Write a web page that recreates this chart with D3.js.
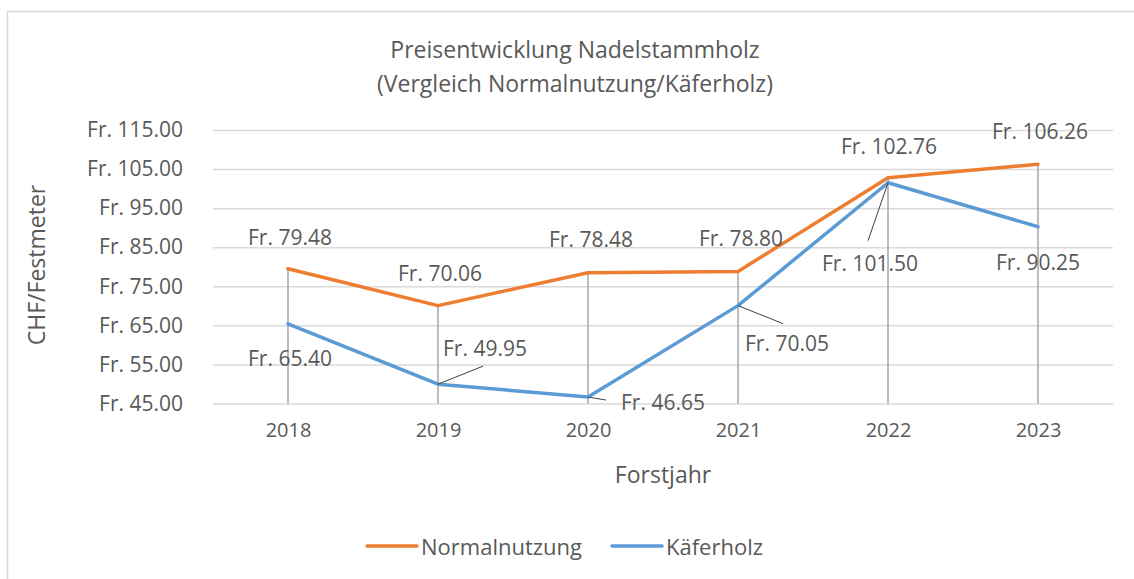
<!DOCTYPE html>
<html>
<head>
<meta charset="utf-8">
<script src="https://cdn.jsdelivr.net/npm/d3@7"></script>
<style>
  body { margin: 0; background: #fff; }
  text { font-family: "Open Sans", sans-serif; fill: #595959; }
</style>
</head>
<body>
<div id="chart"></div>
<script>
// values
var years = ["2018", "2019", "2020", "2021", "2022", "2023"];
var normalnutzung = [79.48, 70.06, 78.48, 78.80, 102.76, 106.26];
var kaeferholz = [65.40, 49.95, 46.65, 70.05, 101.50, 90.25];
var yTicks = [45, 55, 65, 75, 85, 95, 105, 115];

// label placement (offset of label centre from its point), as dragged in the original
var normalLabelPos = [[2, -32], [2, -33], [3, -34], [3, -33], [1, -32], [2, -33]];
var kaeferLabelPos = [[2, 34], [47, -36], [75, 5], [49, 37], [-18, 80], [0, 35]];
// leader lines: end point relative to data point (null = none)
var kaeferLeader = [null, [45, -18], [18, 3], [45, 18], [-20, 58], null];

(function () {
var W = 1134, H = 579;
var plotLeft = 213, plotRight = 1113, plotTop = 130, plotBottom = 403.5;

var svg = d3.select("#chart").append("svg")
    .attr("width", W)
    .attr("height", H);

svg.append("rect")
    .attr("x", 7.5).attr("y", 11.5)
    .attr("width", 1200).attr("height", 700)
    .attr("fill", "#fff")
    .attr("stroke", "#d9d9d9")
    .attr("stroke-width", 1.5);

var x = d3.scalePoint()
    .domain(years)
    .range([plotLeft, plotRight])
    .padding(0.5);

var y = d3.scaleLinear()
    .domain([45, 115])
    .range([plotBottom, plotTop]);

// gridlines + y labels
var yAxis = d3.axisLeft(y)
    .tickValues(yTicks)
    .tickSize(-(plotRight - plotLeft))
    .tickPadding(30)
    .tickFormat(function (d) { return "Fr. " + d3.format(".2f")(d); });

var gy = svg.append("g")
    .attr("transform", "translate(" + plotLeft + ",0)")
    .call(yAxis);
gy.select(".domain").remove();
gy.selectAll(".tick line").attr("stroke", "#d9d9d9").attr("stroke-width", 1.5);
gy.selectAll(".tick text")
    .attr("x", -30)
    .style("font-size", "21px").style("font-family", "'Open Sans', sans-serif")
    .attr("fill", "#595959");

// x labels
var xAxis = d3.axisBottom(x).tickSize(0).tickPadding(19);
var gx = svg.append("g")
    .attr("transform", "translate(0," + plotBottom + ")")
    .call(xAxis);
gx.select(".domain").remove();
gx.selectAll(".tick text")
    .style("font-size", "20px").style("font-family", "'Open Sans', sans-serif")
    .attr("fill", "#595959");

// drop lines
svg.append("g").selectAll("line")
    .data(years)
    .enter()
    .append("line")
    .attr("x1", function (d) { return x(d); })
    .attr("x2", function (d) { return x(d); })
    .attr("y1", function (d, i) { return y(Math.max(normalnutzung[i], kaeferholz[i])); })
    .attr("y2", y(45))
    .attr("stroke", "#a6a6a6")
    .attr("stroke-width", 1.5);

var line = d3.line()
    .x(function (d, i) { return x(years[i]); })
    .y(function (d) { return y(d); });

svg.append("path")
    .datum(kaeferholz)
    .attr("d", line)
    .attr("fill", "none")
    .attr("stroke", "#5b9bd5")
    .attr("stroke-width", 3.5)
    .attr("stroke-linejoin", "round")
    .attr("stroke-linecap", "round");

svg.append("path")
    .datum(normalnutzung)
    .attr("d", line)
    .attr("fill", "none")
    .attr("stroke", "#ed7d31")
    .attr("stroke-width", 3.5)
    .attr("stroke-linejoin", "round")
    .attr("stroke-linecap", "round");

// leader lines
kaeferholz.forEach(function (v, i) {
    if (!kaeferLeader[i]) return;
    svg.append("line")
        .attr("x1", x(years[i]))
        .attr("y1", y(v))
        .attr("x2", x(years[i]) + kaeferLeader[i][0])
        .attr("y2", y(v) + kaeferLeader[i][1])
        .attr("stroke", "#404040")
        .attr("stroke-width", 1);
});

function fmt(v) { return "Fr. " + d3.format(".2f")(v); }

function addLabels(vals, pos) {
    svg.append("g").selectAll("text")
        .data(vals)
        .enter()
        .append("text")
        .attr("x", function (d, i) { return x(years[i]) + pos[i][0]; })
        .attr("y", function (d, i) { return y(d) + pos[i][1]; })
        .attr("text-anchor", "middle")
        .attr("dominant-baseline", "central")
        .style("font-size", "21px")
        .text(fmt);
}
addLabels(normalnutzung, normalLabelPos);
addLabels(kaeferholz, kaeferLabelPos);

// title
var title = svg.append("text")
    .attr("text-anchor", "middle")
    .style("font-size", "23px");
title.append("tspan").attr("x", 575).attr("y", 49).attr("dominant-baseline", "central")
    .text("Preisentwicklung Nadelstammholz");
title.append("tspan").attr("x", 575).attr("y", 83).attr("dominant-baseline", "central")
    .text("(Vergleich Normalnutzung/Käferholz)");

// axis titles
svg.append("text")
    .attr("transform", "translate(36,265) rotate(-90)")
    .attr("text-anchor", "middle")
    .attr("dominant-baseline", "central")
    .style("font-size", "23px")
    .text("CHF/Festmeter");

svg.append("text")
    .attr("x", (plotLeft + plotRight) / 2)
    .attr("y", 474)
    .attr("text-anchor", "middle")
    .attr("dominant-baseline", "central")
    .style("font-size", "23px")
    .text("Forstjahr");

// legend
var legend = [["Normalnutzung", "#ed7d31", 367], ["Käferholz", "#5b9bd5", 612]];
legend.forEach(function (l) {
    svg.append("line")
        .attr("x1", l[2]).attr("x2", l[2] + 50)
        .attr("y1", 546).attr("y2", 546)
        .attr("stroke", l[1])
        .attr("stroke-width", 3.5)
        .attr("stroke-linecap", "round");
    svg.append("text")
        .attr("x", l[2] + 54)
        .attr("y", 546)
        .attr("dominant-baseline", "central")
        .style("font-size", "22px")
        .text(l[0]);
});
})();
</script>
</body>
</html>
